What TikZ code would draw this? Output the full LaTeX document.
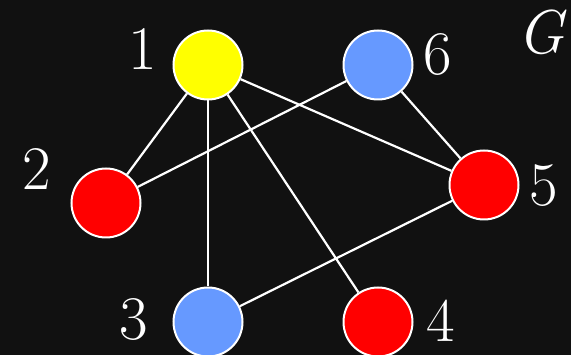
\documentclass[tikz,border=0pt]{standalone}
\usepackage{tikz}
\usetikzlibrary{positioning}
\definecolor{bgdark}{HTML}{111111}
\definecolor{vyellow}{HTML}{FFFF00}
\definecolor{vred}{HTML}{FF0000}
\definecolor{vblue}{HTML}{6699FF}

\begin{document}
\begin{tikzpicture}[x=1pt, y=-1pt,
    vertex/.style={circle, draw=white, line width=2pt, minimum size=69pt, inner sep=0pt},
    vlabel/.style={text=white, inner sep=0pt, font=\fontsize{62}{66}\selectfont},
    edge/.style={white, line width=2.2pt}]
    % 1. Nền
    \fill[bgdark] (0,0) rectangle (571,355);
    \useasboundingbox (0,0) rectangle (571,355);

    % 2. Các đỉnh
    \node[vertex, fill=vyellow] (v1) at (208,65) {};
    \node[vertex, fill=vblue]   (v6) at (378,65) {};
    \node[vertex, fill=vred]    (v2) at (106,203) {};
    \node[vertex, fill=vred]    (v5) at (484,185) {};
    \node[vertex, fill=vblue]   (v3) at (208,322) {};
    \node[vertex, fill=vred]    (v4) at (378,322) {};

    % 3. Các cạnh
    \draw[edge] (v1) -- (v2);
    \draw[edge] (v1) -- (v3);
    \draw[edge] (v1) -- (v4);
    \draw[edge] (v1) -- (v5);
    \draw[edge] (v6) -- (v2);
    \draw[edge] (v6) -- (v5);
    \draw[edge] (v5) -- (v3);

    % 4. Nhãn
    \node[vlabel] (l1) at (143,49) {1};
    \node[vlabel] (l6) at (438,55) {6};
    \node[vlabel] (l2) at (37,169) {2};
    \node[vlabel] (l5) at (544,186) {5};
    \node[vlabel] (l3) at (134,320) {3};
    \node[vlabel] (l4) at (441,321) {4};
    \node[vlabel] (lG) at (541,32) {\itshape G};
\end{tikzpicture}
\end{document}
